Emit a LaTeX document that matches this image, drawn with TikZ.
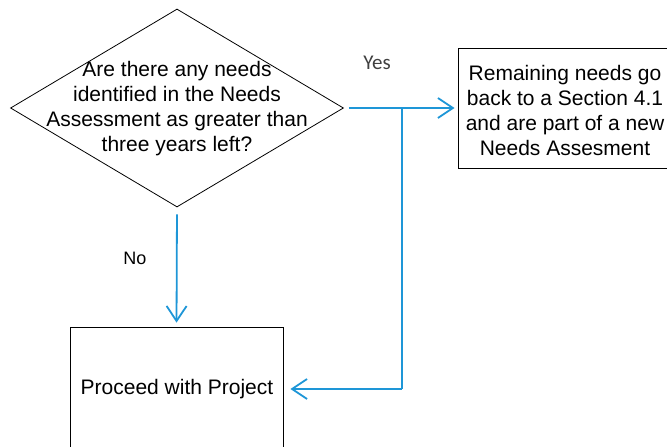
\documentclass[tikz,border=0pt]{standalone}
\usepackage{fontspec}
\setmainfont{Liberation Sans}
\newfontfamily\yesfont{Carlito}
\usetikzlibrary{shapes.geometric,arrows.meta}
\definecolor{flowblue}{RGB}{30,150,215}
\definecolor{labelgray}{RGB}{64,64,64}
\begin{document}
\begin{tikzpicture}[x=1pt,y=-1pt,
  boxnode/.style={draw=black,line width=0.8pt,inner sep=0pt},
  txt/.style={align=center,font=\fontsize{21}{25}\selectfont,inner sep=0pt},
  flow/.style={draw=flowblue,line width=1.8pt,-{Straight Barb[length=15pt,width=20pt,line width=1.8pt]}},
  flowline/.style={draw=flowblue,line width=1.8pt}]
\useasboundingbox (0,0) rectangle (667,447);
\node[boxnode,shape=diamond,minimum width=333pt,minimum height=198pt] (dec) at (177,108) {};
\node[txt] (dectext) at (177,109) {Are there any needs\\identified in the Needs\\Assessment as greater than\\three years left?};
\node[boxnode,minimum width=220pt,minimum height=120pt] (rem) at (568,108) {};
\node[txt] (remtext) at (565,110) {Remaining needs go\\back to a Section 4.1\\and are part of a new\\Needs Assesment};
\node[boxnode,minimum width=213pt,minimum height=124pt] (proc) at (176.5,389) {};
\node[txt] (proctext) at (177,389) {Proceed with Project};
\coordinate (junc) at (402,108);
\coordinate (corner) at (402,389);
\draw[flow,shorten <=5pt,shorten >=3pt] (dec.east) -- (rem.west);
\draw[flowline] (junc) -- (corner);
\draw[flow,shorten >=7pt] (corner) -- (proc.east);
\draw[flow,shorten <=7pt,shorten >=4pt] (dec.south) -- (proc.north);
\node[font=\yesfont\fontsize{21}{25}\selectfont,text=labelgray,inner sep=0pt] (yes) at (377,63) {Yes};
\node[font=\fontsize{18}{22}\selectfont,inner sep=0pt] (no) at (135,258) {No};
\end{tikzpicture}
\end{document}
